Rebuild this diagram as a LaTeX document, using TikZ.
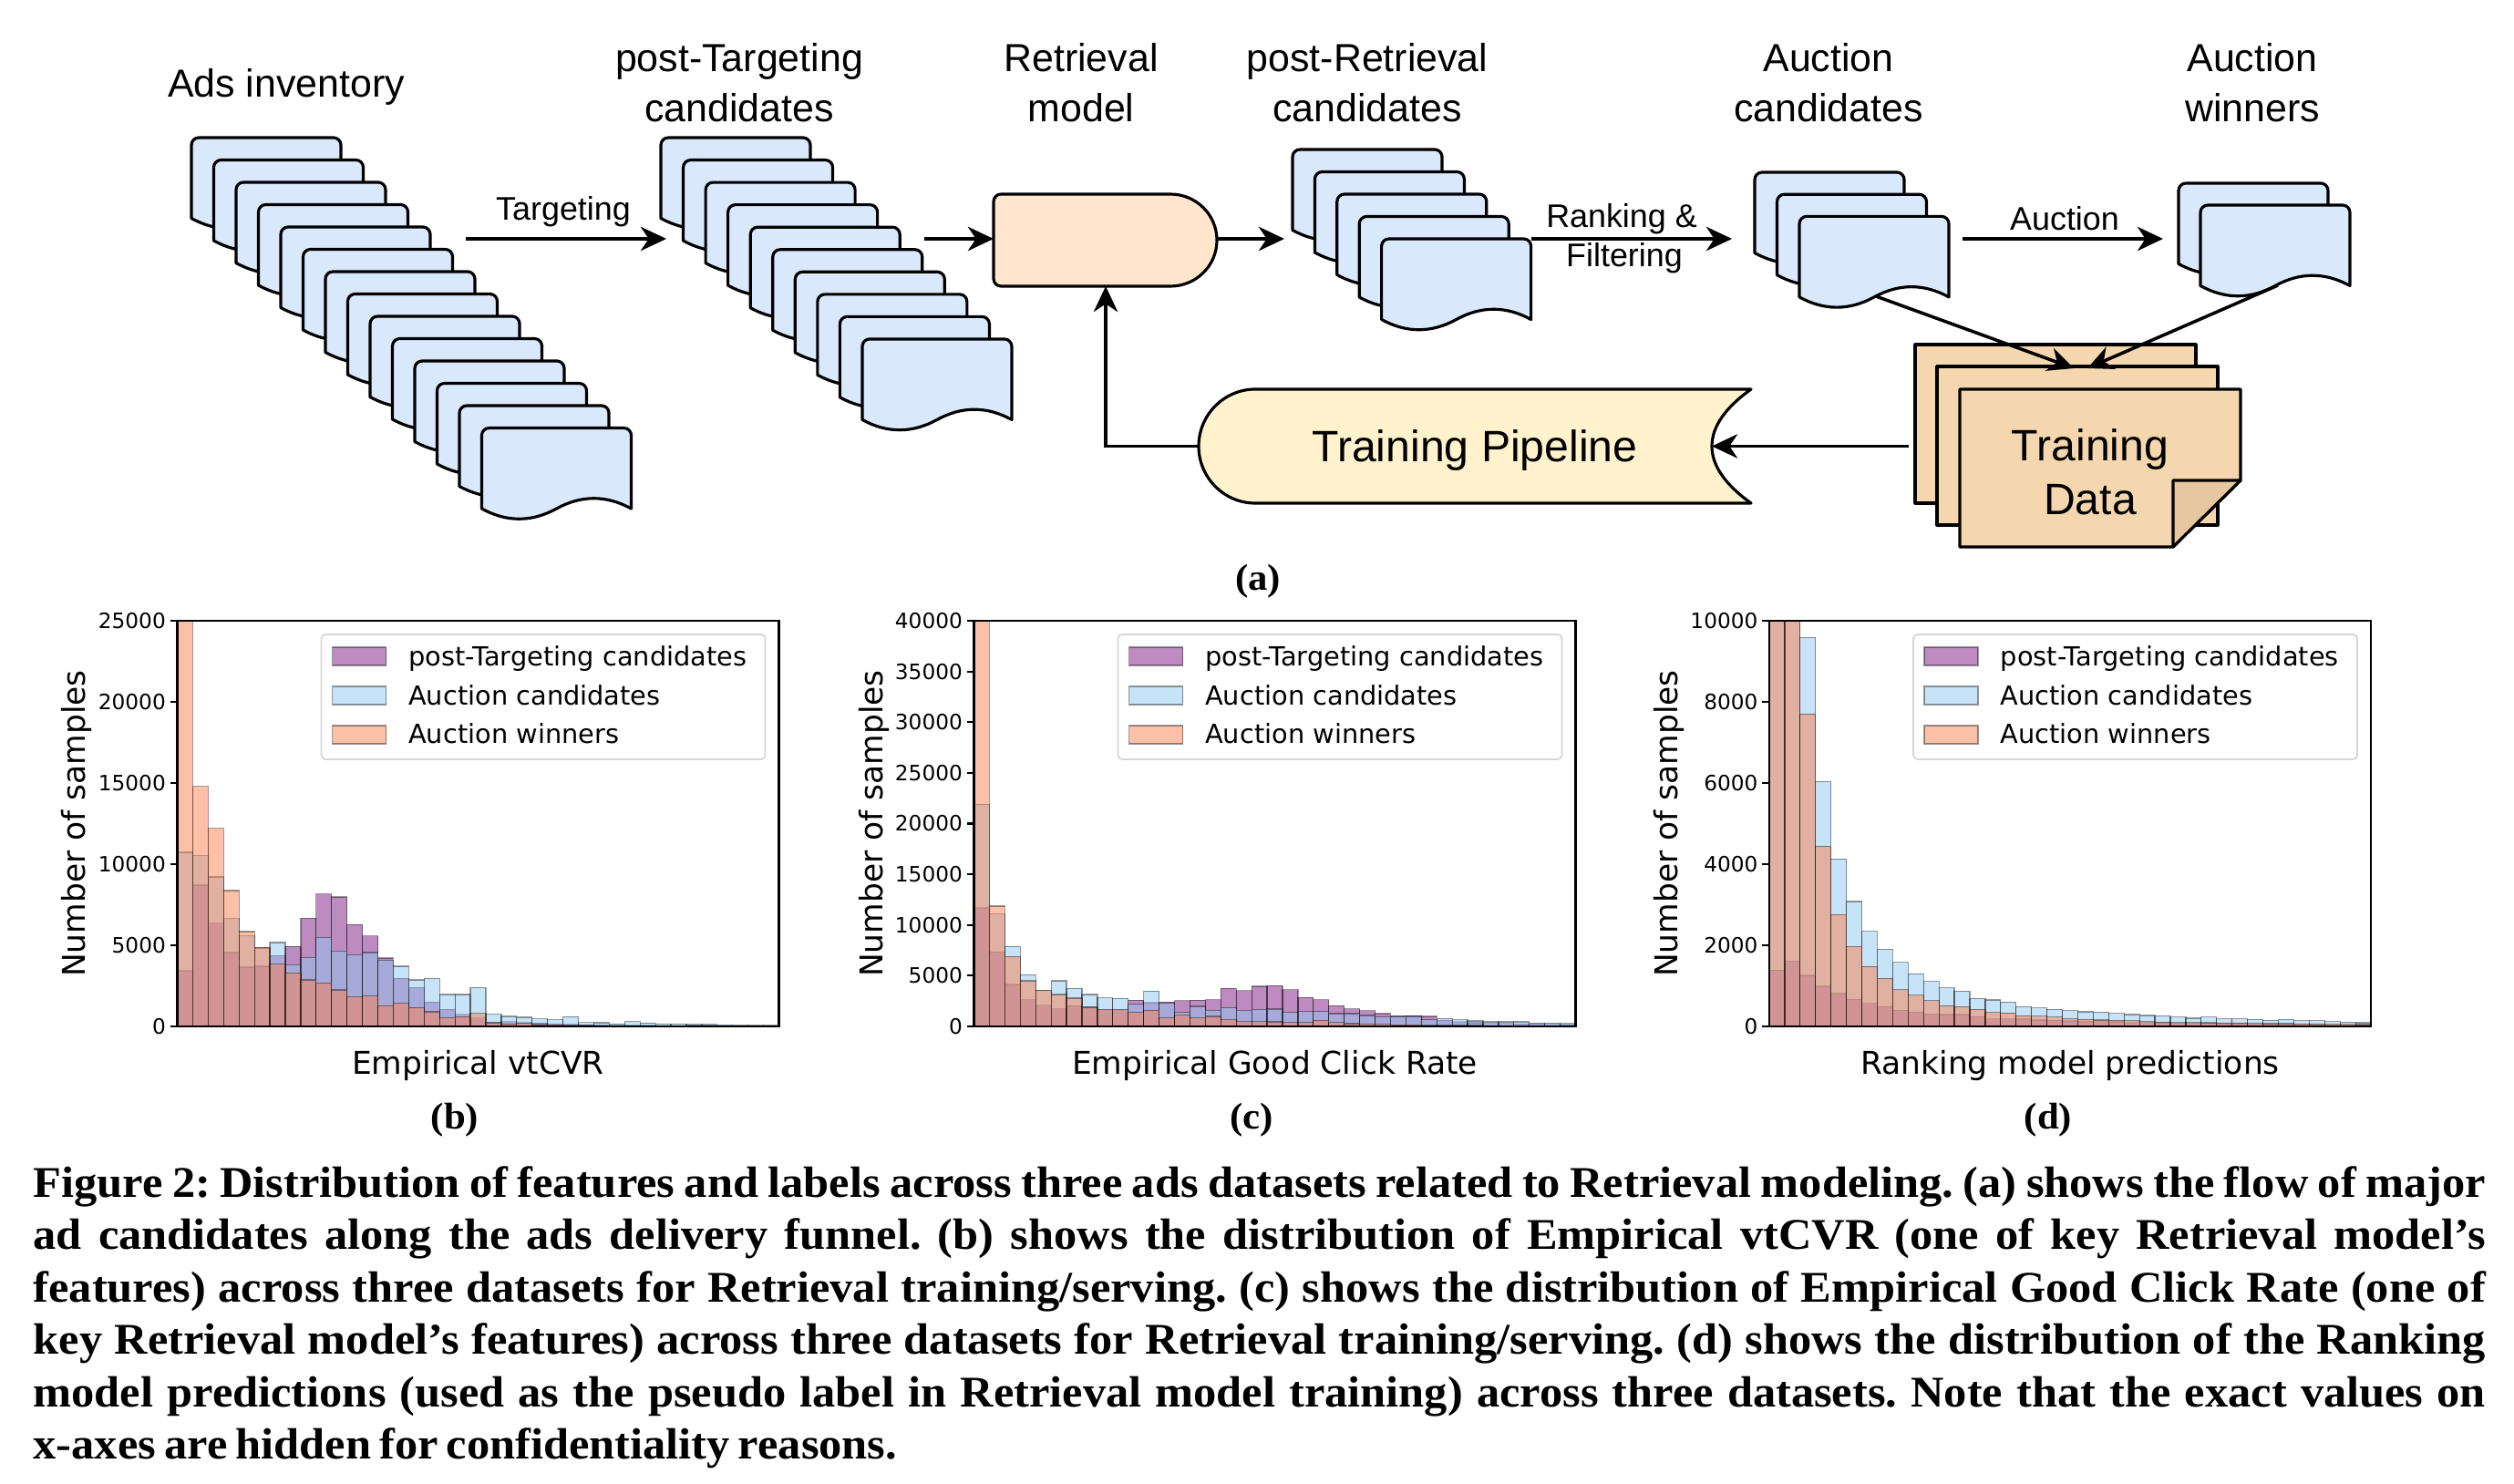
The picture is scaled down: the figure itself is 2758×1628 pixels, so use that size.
\documentclass[tikz,border=0pt]{standalone}
\usepackage{fontspec}
\usetikzlibrary{arrows.meta}
\newfontfamily\arialf{Liberation Sans}
\newfontfamily\djv{DejaVu Sans}
\newfontfamily\capf[FakeStretch=1.05]{Liberation Serif}
\definecolor{docblue}{HTML}{DAE8FC}
\definecolor{retfill}{HTML}{FFE6CC}
\definecolor{pipefill}{HTML}{FFF2CC}
\definecolor{tdfill}{HTML}{F5D7AF}
\definecolor{tdfold}{HTML}{E6C7A0}
\definecolor{cP}{RGB}{127,25,133}
\definecolor{cA}{RGB}{145,201,241}
\definecolor{cW}{RGB}{250,128,80}
\definecolor{legedge}{HTML}{D6D6D6}
\tikzset{
  docline/.style={draw=black, line width=0.9pt, fill=docblue, line join=round},
  shapeline/.style={draw=black, line width=0.9pt, line join=round},
  arr/.style={line width=1pt, -{Stealth[length=8pt,width=7.5pt,inset=2.5pt]}},
  lbl/.style={font=\arialf\fontsize{12.2}{14}\selectfont, anchor=base, inner sep=0pt},
  elbl/.style={font=\arialf\fontsize{10.2}{12}\selectfont, anchor=base, inner sep=0pt},
  biglbl/.style={font=\arialf\fontsize{13.7}{16}\selectfont, anchor=base, inner sep=0pt},
  bar/.style={fill opacity=0.5, draw=black, draw opacity=0.4, line width=0.35pt},
  ticktxt/.style={font=\djv\fontsize{6.6}{8}\selectfont, anchor=east, inner sep=0pt},
  legtxt/.style={font=\djv\fontsize{8.2}{10}\selectfont, anchor=base west, inner sep=0pt},
  axtxt/.style={font=\djv\fontsize{9.8}{12}\selectfont, inner sep=0pt},
  sublbl/.style={font=\capf\bfseries\fontsize{11.6}{14}\selectfont, anchor=base, inner sep=0pt},
  capstyle/.style={font=\capf\bfseries\fontsize{13.66}{16.36}\selectfont, inner sep=0pt}
}
\newcommand{\adoc}[2]{%
  \begin{scope}[shift={(#1,#2)}]
    \draw[docline] (0,88.5) [rounded corners=2.3pt] -- (0,0) -- (164,0) [sharp corners] -- (164,88.5)
      .. controls (136.7,73.5) and (109.3,73.5) .. (82,88.5)
      .. controls (54.7,103.5) and (27.3,103.5) .. (0,88.5) -- cycle;
  \end{scope}}
\newcommand{\histbars}[4]{%
  \foreach \v [count=\i] in {#4} {
    \filldraw[bar, fill=#3] ({#1+(\i-1)*16.923},1126) rectangle ({#1+\i*16.923},{1126-\v*#2});
  }}
\newcommand{\hlegend}[2]{%
  \draw[legedge, fill=white, fill opacity=0.8, line width=0.5pt, rounded corners=1.3pt] ({#1+158},696) rectangle ({#1+645},833);
  \filldraw[bar, fill=cP] ({#1+170},710) rectangle ({#1+229},730);
  \filldraw[bar, fill=cA] ({#1+170},753) rectangle ({#1+229},773);
  \filldraw[bar, fill=cW] ({#1+170},796) rectangle ({#1+229},816);
  \node[legtxt] (#2leg1) at ({#1+253},730) {post-Targeting candidates};
  \node[legtxt] (#2leg2) at ({#1+253},773) {Auction candidates};
  \node[legtxt] (#2leg3) at ({#1+253},815.5) {Auction winners};}
\newcommand{\yticks}[4]{%
  \foreach \lab [count=\k from 0] in {#3} {
    \draw[line width=0.6pt] ({#1-8},{1126-\k*#2}) -- (#1,{1126-\k*#2});
    \node[ticktxt] (#4tick\k) at ({#1-12},{1126-\k*#2}) {\lab};
  }}
\begin{document}
\begin{tikzpicture}[x=0.01cm, y=-0.01cm]
\useasboundingbox (0,0) rectangle (2758,1628);
\fill[white] (0,0) rectangle (2758,1628);

% ---------- (a) flow diagram ----------
\node[lbl] (adsL) at (314,107) {Ads inventory};
\node[lbl] (ptL1) at (811,79) {post-Targeting};
\node[lbl] (ptL2) at (811,133.5) {candidates};
\node[lbl] (rmL1) at (1186,79) {Retrieval};
\node[lbl] (rmL2) at (1186,133.5) {model};
\node[lbl] (prL1) at (1500,79) {post-Retrieval};
\node[lbl] (prL2) at (1500,133.5) {candidates};
\node[lbl] (acL1) at (2006,79) {Auction};
\node[lbl] (acL2) at (2006,133.5) {candidates};
\node[lbl] (awL1) at (2471,79) {Auction};
\node[lbl] (awL2) at (2471,133.5) {winners};

\foreach \i in {0,...,13} { \adoc{210+24.5*\i}{151+24.5*\i} }
\foreach \i in {0,...,9} { \adoc{725+24.55*\i}{151+24.55*\i} }
\foreach \i in {0,...,4} { \adoc{1418+24.4*\i}{164+24.5*\i} }
\foreach \i in {0,...,2} { \adoc{1925+24.5*\i}{189+24.2*\i} }
\foreach \i in {0,...,1} { \adoc{2390+24*\i}{201+24*\i} }

% Retrieval model
\draw[shapeline, fill=retfill] (1284,213) [rounded corners=2.3pt] -- (1090,213) -- (1090,314) [sharp corners] -- (1284,314)
  .. controls (1312.2,314) and (1335,291.4) .. (1335,263.5)
  .. controls (1335,235.6) and (1312.2,213) .. (1284,213) -- cycle;

% Training pipeline
\draw[shapeline, fill=pipefill] (1377,427) -- (1921,427)
  .. controls (1893,447) and (1878,468) .. (1878,489.5)
  .. controls (1878,511) and (1893,532) .. (1921,552) -- (1377,552)
  .. controls (1343,552) and (1315,524) .. (1315,489.5)
  .. controls (1315,455) and (1343,427) .. (1377,427) -- cycle;
\node[biglbl] (tpL) at (1618,507) {Training Pipeline};

% Training data stack
\draw[shapeline, fill=tdfill] (2101,378) rectangle (2409,552);
\draw[shapeline, fill=tdfill] (2125,402) rectangle (2433,576);
\draw[shapeline, fill=tdfill] (2150,427) -- (2458,427) -- (2458,527) -- (2384,600) -- (2150,600) -- cycle;
\draw[shapeline, fill=tdfold] (2384,527) -- (2458,527) -- (2384,600) -- cycle;
\node[biglbl] (tdL1) at (2293,506) {Training};
\node[biglbl] (tdL2) at (2293,565) {Data};

% connector end points
\coordinate (adsOut) at (511,262);
\coordinate (ptIn) at (731,262);
\coordinate (ptOut) at (1014,262);
\coordinate (rmIn) at (1090,262);
\coordinate (rmOut) at (1335,262);
\coordinate (prIn) at (1409,262);
\coordinate (prOut) at (1680,262);
\coordinate (acIn) at (1900,262);
\coordinate (acOut) at (2153,262);
\coordinate (awIn) at (2373,262);
\coordinate (acDown) at (2058,325);
\coordinate (awDown) at (2499,313);
\coordinate (tdIn1) at (2275,404);
\coordinate (tdIn2) at (2290,404);
\coordinate (tdOut) at (2094,489.5);
\coordinate (tpIn) at (1878,489.5);
\coordinate (tpOut) at (1315,489.5);
\coordinate (rmBot) at (1213,314);

\draw[arr] (adsOut) -- (ptIn);
\draw[arr] (ptOut) -- (rmIn);
\draw[arr] (rmOut) -- (prIn);
\draw[arr] (prOut) -- (acIn);
\draw[arr] (acOut) -- (awIn);
\draw[arr] (acDown) -- (tdIn1);
\draw[arr] (awDown) -- (tdIn2);
\draw[arr] (tdOut) -- (tpIn);
\draw[arr] (tpOut) -| (rmBot);

\node[elbl] (tgtL) at (618,242) {Targeting};
\node[elbl] (rfL1) at (1779,250) {Ranking \&};
\node[elbl] (rfL2) at (1782,293) {Filtering};
\node[elbl] (aucL) at (2265,253) {Auction};

\node[sublbl] (subA) at (1380,648) {(a)};

% ---------- (b) ----------
\begin{scope}
\clip (194.5,681) rectangle (854.5,1126);
\histbars{194.5}{17.8}{cP}{3.43,8.71,6.37,4.55,3.65,3.71,4.36,4.93,6.67,8.17,7.98,6.28,5.58,4.21,2.96,2.40,1.50,1.05,0.75,0.52,0.24,0.30,0.25,0.20,0.16,0.13,0.10,0.09,0.08,0.07,0.06,0.05,0.045,0.04,0.035,0.03,0.025,0.02,0.02}
\histbars{194.5}{17.8}{cA}{10.73,10.53,9.22,6.65,5.58,4.83,5.17,3.80,4.25,5.49,4.65,4.42,4.55,4.08,3.71,2.87,2.96,1.97,1.97,2.40,0.75,0.62,0.56,0.47,0.41,0.60,0.24,0.23,0.15,0.30,0.21,0.15,0.15,0.11,0.11,0.09,0.06,0.075,0.075}
\histbars{194.5}{17.8}{cW}{26.0,14.80,12.21,8.37,5.84,4.87,3.84,3.30,2.87,2.68,2.25,1.82,1.87,1.27,1.42,1.16,0.90,0.52,0.60,0.81,0.23,0.15,0.19,0.11,0.09,0.08,0.06,0.05,0.04,0.05,0.03,0.03,0.025,0.02,0.015,0.01,0.01,0.01,0.01}
\end{scope}
\draw[line width=0.75pt] (194.5,681) rectangle (854.5,1126);
\yticks{194.5}{89}{0,5000,10000,15000,20000,25000}{b}
\hlegend{194.5}{b}
\node[axtxt, rotate=90] (bylab) at (84,903.5) {Number of samples};
\node[axtxt, anchor=base] (bxlab) at (524.5,1178) {Empirical vtCVR};
\node[sublbl] (subB) at (499,1238) {(b)};

% ---------- (c) ----------
\begin{scope}
\clip (1068.5,681) rectangle (1728.5,1126);
\histbars{1068.5}{11.125}{cP}{11.68,7.34,4.13,2.64,2.10,1.74,2.04,1.89,1.65,1.65,2.58,2.34,2.40,2.55,2.58,2.64,3.74,3.53,3.95,4.01,3.62,2.84,2.64,2.04,1.74,1.56,1.26,0.99,1.05,0.99,0.60,0.48,0.36,0.30,0.30,0.25,0.25,0.22,0.19}
\histbars{1068.5}{11.125}{cA}{21.89,11.08,7.87,5.09,3.53,4.49,3.74,3.14,2.81,2.75,2.19,3.47,2.28,1.38,1.98,1.59,1.83,1.59,1.68,1.71,1.38,1.47,1.47,1.26,1.26,1.08,0.93,0.99,0.99,0.66,0.78,0.66,0.54,0.45,0.45,0.45,0.33,0.33,0.30}
\histbars{1068.5}{11.125}{cW}{41.0,11.86,6.89,4.49,3.55,3.14,2.78,1.89,1.65,1.65,1.38,1.59,0.84,1.14,0.84,0.99,0.66,0.48,0.48,0.45,0.39,0.39,0.60,0.39,0.27,0.24,0.21,0.16,0.15,0.13,0.11,0.10,0.09,0.08,0.07,0.06,0.055,0.05,0.045}
\end{scope}
\draw[line width=0.75pt] (1068.5,681) rectangle (1728.5,1126);
\yticks{1068.5}{55.625}{0,5000,10000,15000,20000,25000,30000,35000,40000}{c}
\hlegend{1068.5}{c}
\node[axtxt, rotate=90] (cylab) at (959,903.5) {Number of samples};
\node[axtxt, anchor=base] (cxlab) at (1398.5,1178) {Empirical Good Click Rate};
\node[sublbl] (subC) at (1373,1238) {(c)};

% ---------- (d) ----------
\begin{scope}
\clip (1941,681) rectangle (2601,1126);
\histbars{1941}{44.5}{cP}{1.39,1.61,1.26,0.99,0.81,0.67,0.57,0.49,0.40,0.35,0.31,0.29,0.29,0.24,0.19,0.19,0.18,0.16,0.15,0.135,0.13,0.12,0.11,0.10,0.095,0.09,0.085,0.08,0.075,0.07,0.065,0.06,0.055,0.05,0.05,0.045,0.04,0.04,0.035}
\histbars{1941}{44.5}{cA}{12,12,9.59,6.04,4.13,3.08,2.34,1.90,1.58,1.30,1.11,0.95,0.87,0.69,0.65,0.60,0.49,0.46,0.42,0.39,0.36,0.35,0.32,0.29,0.27,0.26,0.23,0.20,0.23,0.19,0.19,0.17,0.15,0.17,0.14,0.14,0.12,0.105,0.09}
\histbars{1941}{44.5}{cW}{11,11,7.70,4.44,2.76,1.97,1.48,1.18,0.91,0.77,0.64,0.51,0.49,0.42,0.34,0.33,0.26,0.25,0.23,0.19,0.17,0.16,0.15,0.14,0.12,0.105,0.10,0.095,0.09,0.085,0.08,0.075,0.07,0.065,0.06,0.055,0.05,0.05,0.045}
\end{scope}
\draw[line width=0.75pt] (1941,681) rectangle (2601,1126);
\yticks{1941}{89}{0,2000,4000,6000,8000,10000}{d}
\hlegend{1941}{d}
\node[axtxt, rotate=90] (dylab) at (1831,903.5) {Number of samples};
\node[axtxt, anchor=base] (dxlab) at (2271,1178) {Ranking model predictions};
\node[sublbl] (subD) at (2247,1238) {(d)};

% ---------- caption ----------
\node[capstyle, anchor=base west, text width=765pt, align=left] (cap) at (36,1313) {%
\spaceskip=0.19em plus 0.2em minus 0.04em\xspaceskip=0pt\frenchspacing
\makebox[765pt][s]{Figure 2: Distribution of features and labels across three ads datasets related to Retrieval modeling. (a) shows the flow of major}\\
\makebox[765pt][s]{ad candidates along the ads delivery funnel. (b) shows the distribution of Empirical vtCVR (one of key Retrieval model’s}\\
\makebox[765pt][s]{features) across three datasets for Retrieval training/serving. (c) shows the distribution of Empirical Good Click Rate (one of}\\
\makebox[765pt][s]{key Retrieval model’s features) across three datasets for Retrieval training/serving. (d) shows the distribution of the Ranking}\\
\makebox[765pt][s]{model predictions (used as the pseudo label in Retrieval model training) across three datasets. Note that the exact values on}\\
x-axes are hidden for confidentiality reasons.};
\end{tikzpicture}
\end{document}
